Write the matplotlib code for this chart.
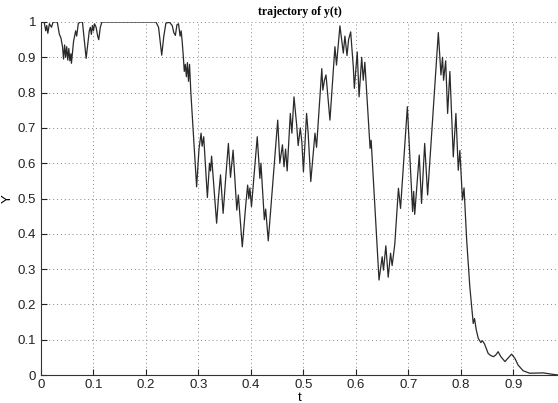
import matplotlib
matplotlib.use("Agg")
import matplotlib.pyplot as plt

# trajectory
t = [0.000, 0.006, 0.009, 0.011, 0.013, 0.016, 0.020, 0.023, 0.031, 0.035,
     0.038, 0.041, 0.043, 0.045, 0.047, 0.049, 0.051, 0.053, 0.055, 0.057,
     0.058, 0.062, 0.066, 0.068, 0.071, 0.074, 0.079, 0.086, 0.092, 0.094,
     0.096, 0.098, 0.100, 0.102, 0.105, 0.108, 0.110, 0.113, 0.116, 0.219,
     0.224, 0.230, 0.234, 0.238, 0.245, 0.250, 0.253, 0.256, 0.259, 0.262,
     0.265, 0.267, 0.269, 0.271, 0.273, 0.275, 0.277, 0.279, 0.281, 0.283,
     0.2855, 0.2965, 0.301, 0.305, 0.307, 0.310, 0.317, 0.321, 0.323, 0.325,
     0.3346, 0.338, 0.342, 0.347, 0.352, 0.357, 0.361, 0.366, 0.373, 0.376,
     0.3835, 0.390, 0.3937, 0.396, 0.398, 0.401, 0.412, 0.417, 0.419, 0.4255,
     0.428, 0.433, 0.4425, 0.451, 0.455, 0.460, 0.463, 0.466, 0.469, 0.475,
     0.478, 0.482, 0.487, 0.490, 0.494, 0.497, 0.500, 0.506, 0.509, 0.514,
     0.522, 0.525, 0.535, 0.537, 0.540, 0.543, 0.5505, 0.560, 0.563, 0.5695,
     0.576, 0.579, 0.583, 0.586, 0.590, 0.595, 0.597, 0.6025, 0.606, 0.611,
     0.614, 0.617, 0.627, 0.629, 0.644, 0.650, 0.6525, 0.657, 0.6615, 0.666,
     0.669, 0.674, 0.681, 0.685, 0.698, 0.708, 0.710, 0.712, 0.7206, 0.725,
     0.731, 0.7366, 0.757, 0.762, 0.765, 0.767, 0.771, 0.7747, 0.779, 0.7855,
     0.7905, 0.795, 0.798, 0.803, 0.806, 0.811, 0.817, 0.8235, 0.826, 0.829,
     0.833, 0.838, 0.841, 0.845, 0.852, 0.857, 0.862, 0.866, 0.871, 0.876,
     0.884, 0.891, 0.8966, 0.903, 0.909, 0.9187, 0.931, 0.957, 0.970, 0.985]
y = [1.000, 1.000, 0.975, 0.990, 0.968, 0.995, 0.985, 1.000, 1.000, 0.965,
     0.955, 0.930, 0.895, 0.935, 0.900, 0.930, 0.892, 0.925, 0.890, 0.910,
     0.883, 0.945, 0.975, 0.960, 0.995, 1.000, 1.000, 0.897, 0.975, 0.985,
     0.965, 0.990, 0.975, 0.995, 0.985, 0.960, 0.950, 0.985, 1.000, 1.000,
     0.985, 0.906, 0.960, 0.997, 0.999, 0.990, 0.970, 0.962, 0.992, 0.995,
     0.960, 0.975, 0.945, 0.905, 0.860, 0.880, 0.845, 0.885, 0.832, 0.880,
     0.800, 0.533, 0.640, 0.685, 0.648, 0.675, 0.503, 0.600, 0.578, 0.620,
     0.430, 0.500, 0.567, 0.458, 0.560, 0.656, 0.560, 0.637, 0.467, 0.510,
     0.363, 0.480, 0.538, 0.500, 0.530, 0.477, 0.675, 0.557, 0.600, 0.440,
     0.470, 0.380, 0.562, 0.722, 0.600, 0.652, 0.590, 0.640, 0.578, 0.741,
     0.685, 0.788, 0.710, 0.650, 0.700, 0.660, 0.576, 0.741, 0.685, 0.548,
     0.685, 0.645, 0.868, 0.807, 0.835, 0.850, 0.722, 0.930, 0.878, 0.989,
     0.912, 0.960, 0.905, 0.950, 0.972, 0.873, 0.812, 0.915, 0.788, 0.900,
     0.835, 0.886, 0.642, 0.665, 0.269, 0.335, 0.297, 0.366, 0.277, 0.345,
     0.310, 0.370, 0.529, 0.472, 0.760, 0.463, 0.520, 0.455, 0.623, 0.486,
     0.656, 0.510, 0.970, 0.850, 0.900, 0.835, 0.890, 0.741, 0.860, 0.618,
     0.741, 0.580, 0.636, 0.496, 0.530, 0.382, 0.250, 0.146, 0.160, 0.130,
     0.104, 0.092, 0.097, 0.088, 0.061, 0.055, 0.052, 0.056, 0.066, 0.052,
     0.038, 0.050, 0.059, 0.047, 0.028, 0.012, 0.005, 0.006, 0.003, 0.000]

xticks = [0, 0.1, 0.2, 0.3, 0.4, 0.5, 0.6, 0.7, 0.8, 0.9]
xtick_labels = ["0", "0.1", "0.2", "0.3", "0.4", "0.5", "0.6", "0.7", "0.8", "0.9"]
yticks = [0, 0.1, 0.2, 0.3, 0.4, 0.5, 0.6, 0.7, 0.8, 0.9, 1]
ytick_labels = ["0", "0.1", "0.2", "0.3", "0.4", "0.5", "0.6", "0.7", "0.8", "0.9", "1"]

plt.rcParams["font.family"] = ["Liberation Sans", "DejaVu Sans"]

fig = plt.figure(figsize=(5.58, 4.03), dpi=100)
ax = fig.add_axes([41 / 558, 28 / 403, 517 / 558, 353 / 403])

ax.plot(t, y, color="#2a2a2a", linewidth=0.9)

ax.set_xlim(0, 0.985)
ax.set_ylim(0, 1)
ax.set_xticks(xticks)
ax.set_xticklabels(xtick_labels)
ax.set_yticks(yticks)
ax.set_yticklabels(ytick_labels)
ax.tick_params(direction="in", length=4, labelsize=9.5, colors="#222222")
ax.tick_params(axis="x", pad=3)

ax.grid(True, color="#888888", linestyle=(0, (1, 3)), linewidth=0.7)
ax.spines["top"].set_visible(False)
ax.spines["right"].set_visible(False)
ax.spines["left"].set_color("#333333")
ax.spines["bottom"].set_color("#333333")

ax.set_title("trajectory of y(t)", fontsize=8.5, fontweight="bold",
             family=["Liberation Serif", "DejaVu Serif"], pad=5)
ax.set_xlabel("t", fontsize=9.5, labelpad=0.5)
ax.set_ylabel("Y", fontsize=9.5, labelpad=3)

fig.savefig("out.png", dpi=100)
